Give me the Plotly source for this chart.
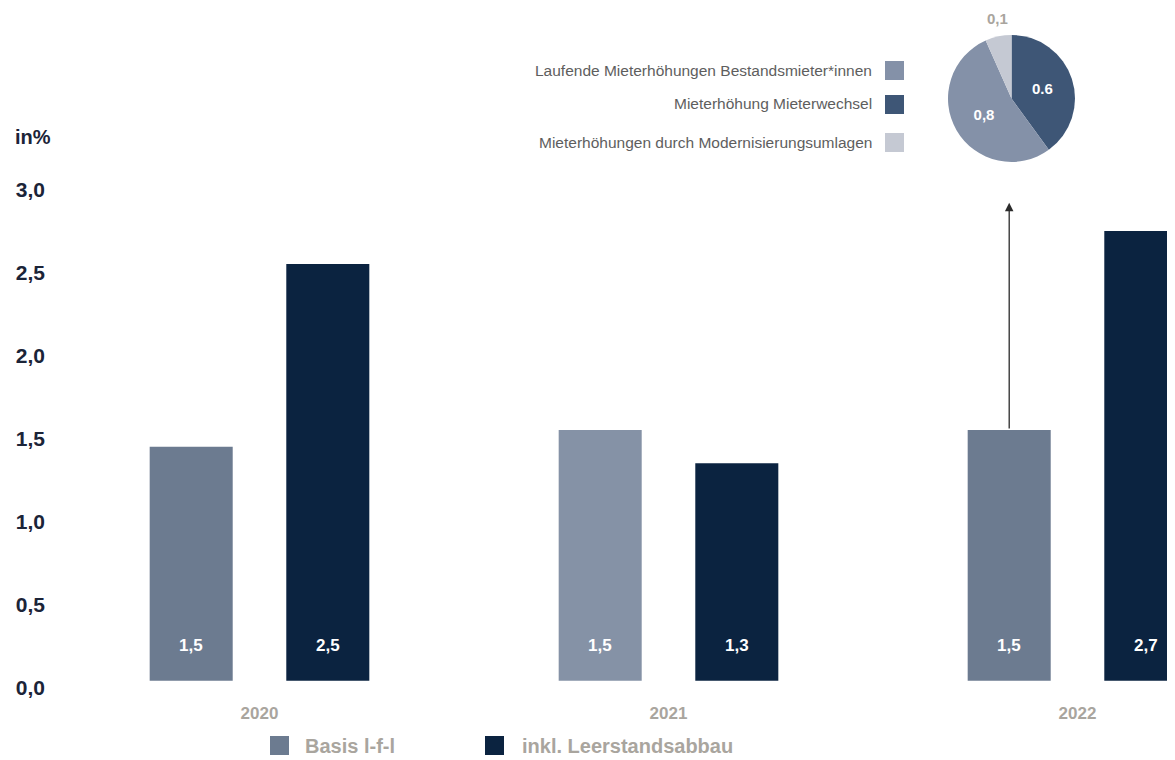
import plotly.graph_objects as go

# ---------------- data ----------------
years = ["2020", "2021", "2022"]
basis_name = "Basis l-f-l"
inkl_name = "inkl. Leerstandsabbau"
basis_values = [1.41, 1.51, 1.51]
inkl_values = [2.51, 1.31, 2.71]
basis_labels = ["1,5", "1,5", "1,5"]
inkl_labels = ["2,5", "1,3", "2,7"]

pie_names = ["Mieterhöhung Mieterwechsel",
             "Laufende Mieterhöhungen Bestandsmieter*innen",
             "Mieterhöhungen durch Modernisierungsumlagen"]
pie_values = [0.6, 0.8, 0.1]
pie_labels = ["0.6", "0,8", "0,1"]
legend_order = [1, 0, 2]  # order of rows in the pie legend

y_tick_values = [0.0, 0.5, 1.0, 1.5, 2.0, 2.5, 3.0]
y_tick_labels = ["0,0", "0,5", "1,0", "1,5", "2,0", "2,5", "3,0"]

# ---------------- style ----------------
basis_colors = ["#6c7b90", "#8592a6", "#6c7b90"]
inkl_color = "#0b2340"
pie_colors = ["#3e5676", "#8491a8", "#c5c9d3"]
navy_text = "#1b2438"
year_grey = "#a9a59e"
SANS = "Liberation Sans, Arial, sans-serif"

OFF = 8  # page body margin
W, H = 1175 - OFF, 760 - OFF
ML, MR, MT, MB = 130 - OFF, 0, 30 - OFF, 71
PW, PH = W - ML - MR, H - MT - MB


def px_x(x):
    return (x - OFF - ML) / PW


def px_y(y):
    return (H - MB - (y - OFF)) / PH


bar_w = 0.203
gap = 0.131
off_basis = -gap / 2 - bar_w
off_inkl = gap / 2
xs = list(range(len(years)))
cat_px = 259.5 - OFF  # pixel centre of first category
cat_step = 409

fig = go.Figure()
fig.add_trace(go.Bar(x=xs, y=basis_values, name=basis_name, width=bar_w,
                     offset=off_basis, marker=dict(color=basis_colors, line_width=0),
                     showlegend=False))
fig.add_trace(go.Bar(x=xs, y=inkl_values, name=inkl_name, width=bar_w,
                     offset=off_inkl, marker=dict(color=inkl_color, line_width=0),
                     showlegend=False))

# pie (small slice labelled separately above the pie)
pie_text = [pie_labels[0], pie_labels[1], ""]
fig.add_trace(go.Pie(values=pie_values, labels=pie_names, text=pie_text,
                     textinfo="text", sort=False, direction="clockwise", rotation=0,
                     marker=dict(colors=pie_colors, line=dict(width=0)),
                     textposition="inside",
                     insidetextfont=dict(color="white", size=15, family=SANS, weight="bold"),
                     domain=dict(x=[px_x(947), px_x(1076)], y=[px_y(162), px_y(35)]),
                     showlegend=False, hoverinfo="label+value"))

ann = []
ann.append(dict(x=px_x(997), y=px_y(18), xref="paper", yref="paper", xanchor="center",
                yanchor="middle", text=pie_labels[2], showarrow=False,
                font=dict(color=year_grey, size=15, family=SANS, weight="bold")))

# bar value labels
for i in xs:
    ann.append(dict(x=i + off_basis + bar_w / 2, y=0.21, text=basis_labels[i], showarrow=False,
                    font=dict(color="white", size=17, family=SANS, weight="bold"),
                    xref="x", yref="y"))
    ann.append(dict(x=i + off_inkl + bar_w / 2, y=0.21, text=inkl_labels[i], showarrow=False,
                    font=dict(color="white", size=17, family=SANS, weight="bold"),
                    xref="x", yref="y"))

# arrow from 2022 basis bar up to pie
ann.append(dict(x=2 + off_basis + bar_w / 2, y=2.88, ax=2 + off_basis + bar_w / 2,
                ay=basis_values[2], xref="x", yref="y", axref="x", ayref="y",
                showarrow=True, arrowhead=2, arrowsize=1.3, arrowwidth=1.3,
                arrowcolor="#2b2b2b", text=""))

# "in%" label
ann.append(dict(x=px_x(13), y=px_y(137), xref="paper", yref="paper", xanchor="left",
                yanchor="middle", text="in%", showarrow=False,
                font=dict(color=navy_text, size=20, family=SANS, weight="bold")))

shapes = []
# pie legend (right-aligned text with squares on the right)
rows_y = [70, 104, 142]
for r, idx in enumerate(legend_order):
    y = rows_y[r]
    ann.append(dict(x=px_x(874), y=px_y(y), xref="paper", yref="paper", xanchor="right",
                    yanchor="middle", text=pie_names[idx], showarrow=False,
                    font=dict(color="#5e5e5e", size=15.5, family=SANS)))
    shapes.append(dict(type="rect", xref="paper", yref="paper",
                       x0=px_x(885), x1=px_x(904), y0=px_y(y + 10), y1=px_y(y - 9),
                       fillcolor=pie_colors[idx], line=dict(width=0)))

# bottom legend for the bars
leg_items = [(basis_name, basis_colors[0], 270, 303), (inkl_name, inkl_color, 485, 520)]
for name, col, sx, tx in leg_items:
    shapes.append(dict(type="rect", xref="paper", yref="paper",
                       x0=px_x(sx), x1=px_x(sx + 19), y0=px_y(755), y1=px_y(736),
                       fillcolor=col, line=dict(width=0)))
    ann.append(dict(x=px_x(tx), y=px_y(746), xref="paper", yref="paper", xanchor="left",
                    yanchor="middle", text=name, showarrow=False,
                    font=dict(color=year_grey, size=20, family=SANS, weight="bold")))

fig.update_layout(
    width=W, height=H,
    margin=dict(l=ML, r=MR, t=MT, b=MB, pad=0),
    paper_bgcolor="white", plot_bgcolor="white",
    barmode="overlay",
    annotations=ann, shapes=shapes,
    xaxis=dict(range=[-(cat_px - ML) / cat_step, (W - cat_px) / cat_step], tickvals=xs,
               ticktext=years, showgrid=False,
               zeroline=False, showline=False, ticks="", ticklabelstandoff=12,
               tickfont=dict(color=year_grey, size=17, family=SANS, weight="bold")),
    yaxis=dict(domain=[0, px_y(133)], range=[-0.05, 3.3],
               tickvals=[v - 0.04 for v in y_tick_values],
               ticktext=y_tick_labels,
               showgrid=False, zeroline=False, showline=False, ticks="",
               ticklabelstandoff=84,
               tickfont=dict(color=navy_text, size=21, family=SANS, weight="bold")),
)

fig.write_html("out.html")
